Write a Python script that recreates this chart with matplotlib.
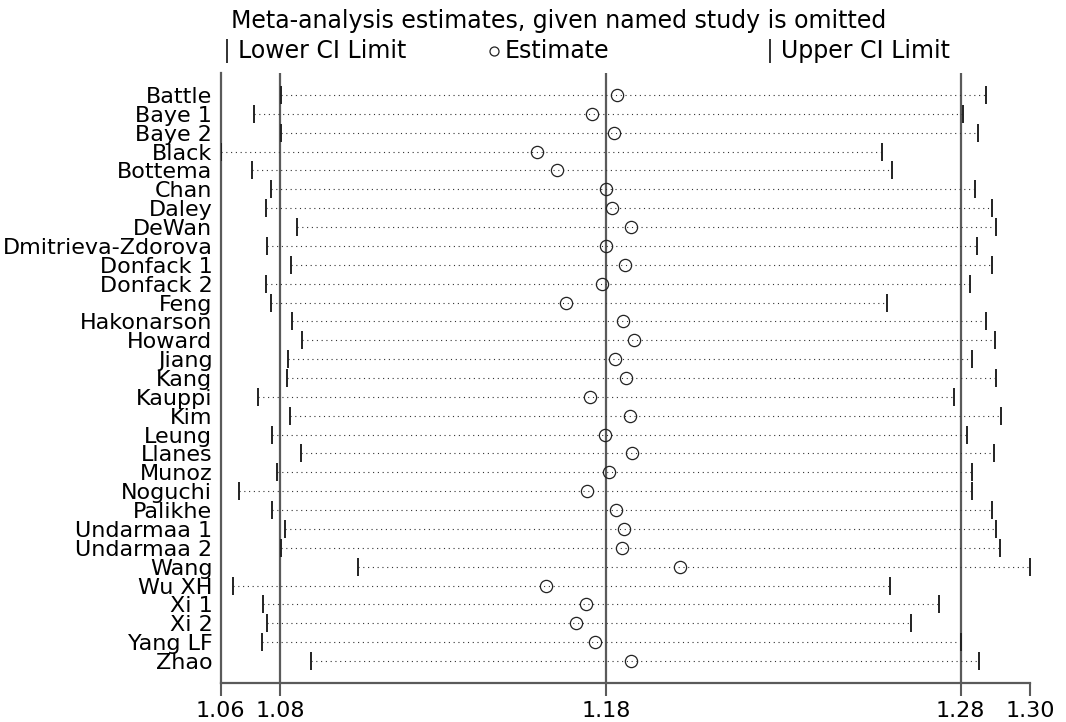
import matplotlib
matplotlib.use("Agg")
import matplotlib.pyplot as plt
from matplotlib.lines import Line2D

# studies, top to bottom
studies = ["Battle", "Baye 1", "Baye 2", "Black", "Bottema", "Chan", "Daley",
           "DeWan", "Dmitrieva-Zdorova", "Donfack 1", "Donfack 2", "Feng",
           "Hakonarson", "Howard", "Jiang", "Kang", "Kauppi", "Kim", "Leung",
           "Llanes", "Munoz", "Noguchi", "Palikhe", "Undarmaa 1", "Undarmaa 2",
           "Wang", "Wu XH", "Xi 1", "Xi 2", "Yang LF", "Zhao"]

# estimate with the named study omitted, and its CI
estimate = [1.1800, 1.1726, 1.1791, 1.1565, 1.1623, 1.1766, 1.1783,
            1.1839, 1.1766, 1.1823, 1.1754, 1.1649,
            1.1817, 1.1848, 1.1794, 1.1825, 1.1720, 1.1836, 1.1763,
            1.1842, 1.1774, 1.1712, 1.1795, 1.1819, 1.1815,
            1.1984, 1.1591, 1.1707, 1.1677, 1.1735, 1.1839]
lower_ci = [1.0810, 1.0731, 1.0810, 1.0633, 1.0725, 1.0781, 1.0766,
            1.0857, 1.0769, 1.0840, 1.0766, 1.0780,
            1.0843, 1.0871, 1.0832, 1.0828, 1.0743, 1.0838, 1.0784,
            1.0868, 1.0798, 1.0686, 1.0784, 1.0821, 1.0810,
            1.1038, 1.0669, 1.0757, 1.0770, 1.0754, 1.0899]
upper_ci = [1.2884, 1.2816, 1.2861, 1.2580, 1.2607, 1.2852, 1.2902,
            1.2915, 1.2857, 1.2902, 1.2837, 1.2594,
            1.2884, 1.2911, 1.2844, 1.2915, 1.2790, 1.2929, 1.2830,
            1.2908, 1.2844, 1.2844, 1.2902, 1.2915, 1.2925,
            1.3014, 1.2601, 1.2746, 1.2664, 1.2810, 1.2864]

# pooled estimate (all studies)
overall = [1.0807, 1.1768, 1.2810]   # lower, estimate, upper

grey = "#5a5a5a"
fs = 16
fs_top = 17

fig = plt.figure(figsize=(10.66, 7.22), dpi=100)
ax = fig.add_axes([0.20704, 0.05443, 0.75919, 0.84446])

rows = list(range(len(studies)))
xmin = min(lower_ci)
xmax = max(upper_ci)

for v in overall:
    ax.axvline(v, color=grey, lw=1.6, zorder=1)

for i in rows:
    ax.plot([lower_ci[i], upper_ci[i]], [i, i], color="#333333", lw=0.8,
            linestyle=(0, (1, 3.3)), zorder=2)
ax.plot(lower_ci, rows, ls="none", marker="|", ms=12.5, mew=1.4, color="#222222", zorder=3)
ax.plot(upper_ci, rows, ls="none", marker="|", ms=12.5, mew=1.4, color="#222222", zorder=3)
ax.plot(estimate, rows, ls="none", marker="o", ms=8.8, mew=0.9,
        mfc="none", mec="#222222", zorder=4)

ax.set_xlim(xmin, xmax)
ax.set_ylim(len(studies) - 1 + 1.15, -1.166)

ticks = [xmin] + overall + [xmax]
ax.set_xticks(ticks)
ax.set_xticklabels(["%.2f" % t for t in ticks], fontsize=fs)
ax.tick_params(axis="x", length=9, width=1.5, color=grey, pad=4)
ax.set_yticks(rows)
ax.set_yticklabels(studies, fontsize=fs)
ax.tick_params(axis="y", length=0, pad=6)

for s in ["top", "right"]:
    ax.spines[s].set_visible(False)
for s in ["left", "bottom"]:
    ax.spines[s].set_color(grey)
    ax.spines[s].set_linewidth(1.6)

# title and legend row
fig.text(231 / 1066, 1 - 21 / 722, "Meta-analysis estimates, given named study is omitted",
         fontsize=fs_top, ha="left", va="center")
ly = 1 - 51 / 722
items = [("|", 227, "Lower CI Limit", 238), ("o", 494, "Estimate", 505),
         ("|", 770, "Upper CI Limit", 781)]
for mk, mx, lab, tx in items:
    if mk == "o":
        h = Line2D([mx / 1066], [ly], marker="o", ms=6.5, mfc="none", mec="#222222",
                   mew=0.9, ls="none", transform=fig.transFigure)
    else:
        h = Line2D([mx / 1066], [ly], marker="|", ms=17, mew=1.3, color="#222222",
                   ls="none", transform=fig.transFigure)
    fig.add_artist(h)
    fig.text(tx / 1066, ly, lab, fontsize=fs_top, ha="left", va="center")

fig.savefig("out.png", dpi=100)
